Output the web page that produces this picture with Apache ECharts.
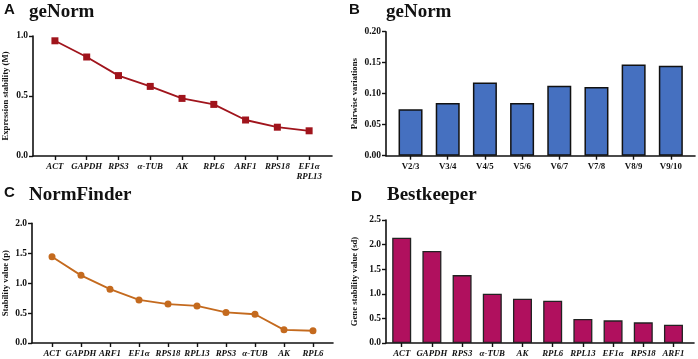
<!DOCTYPE html>
<html>
<head>
<meta charset="utf-8">
<script src="https://cdn.jsdelivr.net/npm/echarts@6/dist/echarts.min.js"></script>
<style>
  html, body { margin: 0; padding: 0; background: #fff; }
  #main { width: 698px; height: 359px; }
</style>
</head>
<body>
<div id="main"></div>
<script>
// A - geNorm, expression stability (M)
var genesA = ['ACT', 'GAPDH', 'RPS3', 'α-TUB', 'AK', 'RPL6', 'ARF1', 'RPS18', 'EF1α\nRPL13'];
var valuesA = [0.96, 0.825, 0.67, 0.58, 0.48, 0.43, 0.30, 0.24, 0.21];

// B - geNorm pairwise variations
var pairsB = ['V2/3', 'V3/4', 'V4/5', 'V5/6', 'V6/7', 'V7/8', 'V8/9', 'V9/10'];
var valuesB = [0.075, 0.085, 0.118, 0.085, 0.113, 0.111, 0.147, 0.145];

// C - NormFinder stability value
var genesC = ['ACT', 'GAPDH', 'ARF1', 'EF1α', 'RPS18', 'RPL13', 'RPS3', 'α-TUB', 'AK', 'RPL6'];
var valuesC = [1.44, 1.13, 0.90, 0.72, 0.65, 0.62, 0.51, 0.48, 0.22, 0.205];

// D - Bestkeeper gene stability value (sd)
var genesD = ['ACT', 'GAPDH', 'RPS3', 'α-TUB', 'AK', 'RPL6', 'RPL13', 'EF1α', 'RPS18', 'ARF1'];
var valuesD = [2.14, 1.87, 1.38, 1.00, 0.90, 0.86, 0.49, 0.46, 0.42, 0.37];

var serif = '"Liberation Serif", "Times New Roman", serif';
var sans = '"Liberation Sans", Arial, sans-serif';

function idx(arr) { return arr.map(function (d, i) { return i; }); }
function pairs(vals) { return vals.map(function (v, i) { return [i, v]; }); }

// x axis as a value scale so the outer gaps match the original
function xAxisFor(gi, cats, min, max, italic) {
    return {
        type: 'value', gridIndex: gi, min: min, max: max,
        axisLine: { show: true, lineStyle: { color: '#111', width: 1.6 } },
        axisTick: { show: true, customValues: idx(cats), length: 4, lineStyle: { color: '#111', width: 1.4 } },
        axisLabel: {
            customValues: idx(cats),
            formatter: function (v) { return cats[Math.round(v)]; },
            fontFamily: serif, fontWeight: 'bold', fontStyle: italic ? 'italic' : 'normal',
            fontSize: 8.8, color: '#111', margin: 6, lineHeight: 10
        },
        splitLine: { show: false }
    };
}

function yAxisFor(gi, max, interval, digits, name, gap) {
    return {
        type: 'value', gridIndex: gi, min: 0, max: max, interval: interval,
        name: name, nameLocation: 'middle', nameGap: gap,
        nameTextStyle: { fontFamily: serif, fontWeight: 'bold', fontSize: 8.7, color: '#111' },
        axisLine: { show: true, onZero: false, lineStyle: { color: '#111', width: 1.6 } },
        axisTick: { show: true, length: 4, lineStyle: { color: '#111', width: 1.4 } },
        axisLabel: {
            formatter: function (v) { return v.toFixed(digits); },
            fontFamily: serif, fontWeight: 'bold', fontSize: 9.5, color: '#111', margin: 5
        },
        splitLine: { show: false }
    };
}

function heading(letter, text, x, y, tx, ty) {
    return [
        { text: letter, left: x, top: y, padding: 0, textStyle: { fontFamily: sans, fontWeight: 'bold', fontSize: 15, color: '#111' } },
        { text: text, left: tx, top: ty, padding: 0, textStyle: { fontFamily: serif, fontWeight: 'bold', fontSize: 19, color: '#111' } }
    ];
}

var chart = echarts.init(document.getElementById('main'));
chart.setOption({
    animation: false,
    backgroundColor: '#fff',
    title: [].concat(
        heading('A', 'geNorm', 4, 2, 29, 3),
        heading('B', 'geNorm', 349, 2, 386, 3),
        heading('C', 'NormFinder', 4, 185, 29, 186),
        heading('D', 'Bestkeeper', 351, 189, 387, 186)
    ),
    grid: [
        { left: 31, top: 36, width: 301, height: 120 },
        { left: 386, top: 31.7, width: 309, height: 124 },
        { left: 31, top: 223.3, width: 302, height: 120 },
        { left: 386, top: 220, width: 308, height: 123.3 }
    ],
    xAxis: [
        xAxisFor(0, genesA, -0.69, 8.72, true),
        xAxisFor(1, pairsB, -0.66, 7.65, false),
        xAxisFor(2, genesC, -0.69, 9.69, true),
        xAxisFor(3, genesD, -0.52, 9.68, true)
    ],
    yAxis: [
        yAxisFor(0, 1, 0.5, 1, 'Expression stability (M)', 23),
        yAxisFor(1, 0.2, 0.05, 2, 'Pairwise variations', 27),
        yAxisFor(2, 2, 0.5, 1, 'Stability value (p)', 22),
        yAxisFor(3, 2.5, 0.5, 1, 'Gene stability value (sd)', 27)
    ],
    series: [
        {
            type: 'line', xAxisIndex: 0, yAxisIndex: 0, data: pairs(valuesA),
            symbol: 'rect', symbolSize: 7,
            lineStyle: { color: '#A0141C', width: 1.8 },
            itemStyle: { color: '#A0141C' }
        },
        {
            type: 'bar', xAxisIndex: 1, yAxisIndex: 1, data: pairs(valuesB),
            barWidth: 24,
            itemStyle: { color: '#4570C0', borderColor: '#111', borderWidth: 1.5 }
        },
        {
            type: 'line', xAxisIndex: 2, yAxisIndex: 2, data: pairs(valuesC),
            symbol: 'circle', symbolSize: 7,
            lineStyle: { color: '#C46A1E', width: 1.8 },
            itemStyle: { color: '#C46A1E' }
        },
        {
            type: 'bar', xAxisIndex: 3, yAxisIndex: 3, data: pairs(valuesD),
            barWidth: 19,
            itemStyle: { color: '#B0105E', borderColor: '#222', borderWidth: 1.3 }
        }
    ]
});
</script>
</body>
</html>
